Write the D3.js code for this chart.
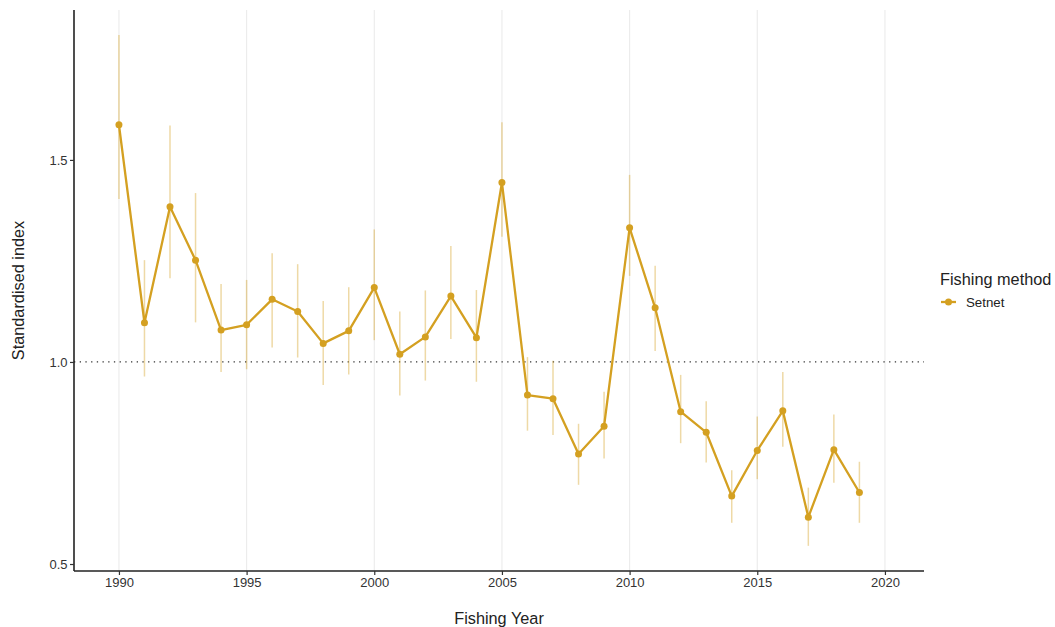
<!DOCTYPE html>
<html>
<head>
<meta charset="utf-8">
<script src="https://cdn.jsdelivr.net/npm/d3@7/dist/d3.min.js"></script>
<style>
  html, body { margin: 0; padding: 0; background: #fff; }
  svg { display: block; font-family: "Liberation Sans", Arial, sans-serif; }
</style>
</head>
<body>
<svg id="chart" width="1055" height="627"></svg>
<script>
// Standardised CPUE index by fishing year, with 95% interval
const years = [1990,1991,1992,1993,1994,1995,1996,1997,1998,1999,
               2000,2001,2002,2003,2004,2005,2006,2007,2008,2009,
               2010,2011,2012,2013,2014,2015,2016,2017,2018,2019];
const index = [1.587,1.097,1.384,1.252,1.079,1.092,1.155,1.125,1.046,1.077,
               1.184,1.019,1.062,1.163,1.060,1.444,0.918,0.909,0.772,0.841,
               1.332,1.134,0.877,0.826,0.668,0.781,0.879,0.616,0.783,0.677];
const lower = [1.403,0.964,1.207,1.098,0.975,0.982,1.036,1.011,0.943,0.969,
               1.054,0.917,0.954,1.057,0.951,1.310,0.830,0.819,0.696,0.761,
               1.213,1.027,0.799,0.751,0.602,0.710,0.790,0.545,0.701,0.602];
const upper = [1.809,1.252,1.585,1.418,1.193,1.203,1.269,1.242,1.151,1.185,
               1.328,1.125,1.177,1.287,1.178,1.593,1.012,1.003,0.847,0.926,
               1.463,1.238,0.968,0.903,0.732,0.865,0.975,0.689,0.870,0.753];
const xTicks = [1990,1995,2000,2005,2010,2015,2020];
const yTicks = [0.5,1.0,1.5];
const methods = ["Setnet"];

const colour = "#d4a021";
const svg = d3.select("#chart");
const panel = { left: 74, right: 924, top: 10, bottom: 571 };

const x = d3.scaleLinear().domain([1988.24, 2021.53]).range([panel.left, panel.right]);
const y = d3.scaleLinear().domain([0.4827, 1.871]).range([panel.bottom, panel.top]);

const rows = years.map((yr, i) => ({ yr, v: index[i], lo: lower[i], hi: upper[i] }));

// vertical grid lines at major year ticks
svg.append("g").selectAll("line").data(xTicks).join("line")
  .attr("x1", d => x(d)).attr("x2", d => x(d))
  .attr("y1", panel.top).attr("y2", panel.bottom)
  .attr("stroke", "#ebebeb").attr("stroke-width", 1.1);

// reference line at 1
svg.append("line")
  .attr("x1", panel.left).attr("x2", panel.right)
  .attr("y1", y(1)).attr("y2", y(1))
  .attr("stroke", "#333").attr("stroke-width", 1.2)
  .attr("stroke-dasharray", "1.3,4.4");

// error bars
svg.append("g").selectAll("line").data(rows).join("line")
  .attr("x1", d => x(d.yr)).attr("x2", d => x(d.yr))
  .attr("y1", d => y(d.lo)).attr("y2", d => y(d.hi))
  .attr("stroke", colour).attr("stroke-opacity", 0.4).attr("stroke-width", 1.5);

// index line and points
svg.append("path").datum(rows)
  .attr("fill", "none").attr("stroke", colour).attr("stroke-width", 2.3)
  .attr("stroke-linejoin", "round")
  .attr("d", d3.line().x(d => x(d.yr)).y(d => y(d.v)));

svg.append("g").selectAll("circle").data(rows).join("circle")
  .attr("cx", d => x(d.yr)).attr("cy", d => y(d.v)).attr("r", 3.5)
  .attr("fill", colour);

// axes
const xAxis = svg.append("g").attr("transform", `translate(0,${panel.bottom})`)
  .call(d3.axisBottom(x).tickValues(xTicks).tickFormat(d3.format("d")).tickSize(4).tickPadding(3));
const yAxis = svg.append("g").attr("transform", `translate(${panel.left},0)`)
  .call(d3.axisLeft(y).tickValues(yTicks).tickFormat(d3.format(".1f")).tickSize(4).tickPadding(2.5));

[xAxis, yAxis].forEach(a => {
  a.select(".domain").attr("stroke", "#222").attr("stroke-width", 1.6);
  a.selectAll(".tick line").attr("stroke", "#333").attr("stroke-width", 1.2);
  a.selectAll(".tick text").attr("fill", "#333").style("font-size", "13px")
    .style("font-family", "'Liberation Sans', Arial, sans-serif");
});
xAxis.select(".domain").attr("d", `M${panel.left},0H${panel.right}`);
yAxis.select(".domain").attr("d", `M0,${panel.top}V${panel.bottom}`);

// axis titles
svg.append("text").attr("x", (panel.left + panel.right) / 2).attr("y", 624)
  .attr("text-anchor", "middle").attr("fill", "#222").style("font-size", "16.3px")
  .text("Fishing Year");
svg.append("text")
  .attr("transform", `translate(24,${(panel.top + panel.bottom) / 2}) rotate(-90)`)
  .attr("text-anchor", "middle").attr("fill", "#222").style("font-size", "16.3px")
  .text("Standardised index");

// legend
const legend = svg.append("g").attr("transform", "translate(940,0)");
legend.append("text").attr("x", 0).attr("y", 285)
  .attr("fill", "#222").style("font-size", "16.3px").text("Fishing method");
methods.forEach((m, i) => {
  const ly = 302 + i * 18;
  legend.append("line").attr("x1", 1).attr("x2", 16).attr("y1", ly).attr("y2", ly)
    .attr("stroke", colour).attr("stroke-width", 2.3);
  legend.append("circle").attr("cx", 8.5).attr("cy", ly).attr("r", 3.5).attr("fill", colour);
  legend.append("text").attr("x", 26).attr("y", ly + 4.7)
    .attr("fill", "#222").style("font-size", "13.3px").text(m);
});
</script>
</body>
</html>
